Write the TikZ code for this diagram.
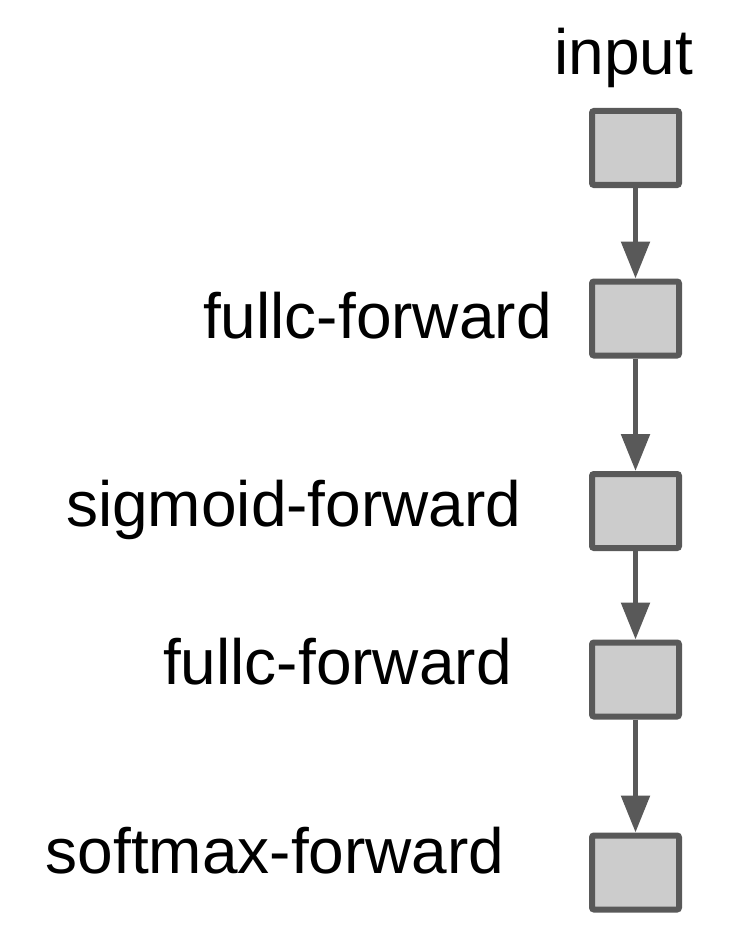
\documentclass[tikz,border=0pt]{standalone}
\usepackage{fontspec}
\setmainfont{Liberation Sans}
\usetikzlibrary{arrows.meta}
\definecolor{edgegray}{HTML}{595959}
\definecolor{boxfill}{HTML}{CCCCCC}
\tikzset{
  layerbox/.style={draw=edgegray, fill=boxfill, line width=6pt, rounded corners=2pt,
    minimum width=87pt, minimum height=74pt, inner sep=0pt},
  lbl/.style={font=\fontsize{64pt}{70pt}\selectfont, text=black, inner sep=0pt},
  flow/.style={draw=edgegray, line width=5.5pt, -{Triangle[width=28pt,length=37pt]}}
}
\begin{document}
\begin{tikzpicture}[x=1pt,y=-1pt]
\useasboundingbox (0,0) rectangle (728,944);
\node[layerbox] (b1) at (635.5,148) {};
\node[layerbox] (b2) at (635.5,318.5) {};
\node[layerbox] (b3) at (635.5,511) {};
\node[layerbox] (b4) at (635.5,679.5) {};
\node[layerbox] (b5) at (635.5,872.5) {};
\node[lbl, anchor=base] (t1) at (624,75) {input};
\node[lbl, anchor=base west] (t2) at (203,338) {fullc-forward};
\node[lbl, anchor=base west] (t3) at (66,526) {sigmoid-forward};
\node[lbl, anchor=base west] (t4) at (163,684) {fullc-forward};
\node[lbl, anchor=base west] (t5) at (45.5,873) {softmax-forward};
\draw[flow] (b1.south) -- (b2.north);
\draw[flow] (b2.south) -- (b3.north);
\draw[flow] (b3.south) -- (b4.north);
\draw[flow] (b4.south) -- (b5.north);
\end{tikzpicture}
\end{document}
